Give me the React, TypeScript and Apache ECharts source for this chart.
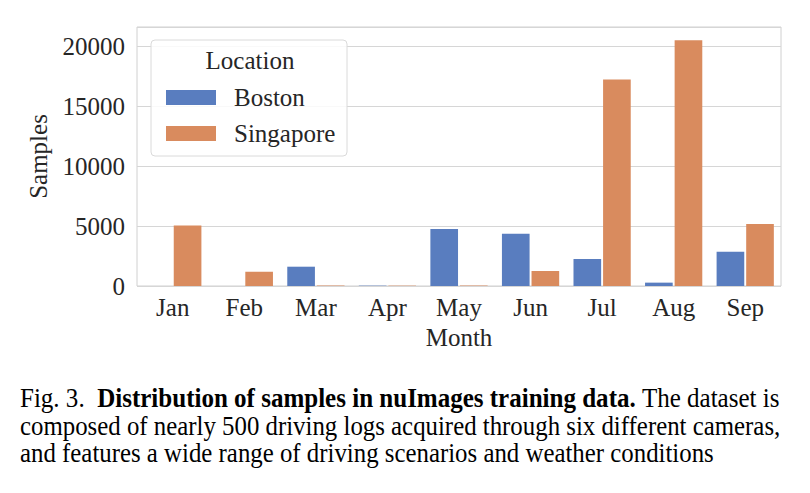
import React, { useEffect, useRef } from 'react';
import * as echarts from 'echarts';

const months = ['Jan', 'Feb', 'Mar', 'Apr', 'May', 'Jun', 'Jul', 'Aug', 'Sep'];
const bostonValues = [0, 0, 1610, 30, 4750, 4360, 2250, 280, 2860];
const singaporeValues = [5040, 1190, 40, 30, 40, 1250, 17220, 20500, 5170];
const seriesNames = ['Boston', 'Singapore'];
const legendTitle = 'Location';
const xName = 'Month';
const yName = 'Samples';
const captionLine1 = { pre: 'Fig. 3.  ', bold: 'Distribution of samples in nuImages training data.', post: ' The dataset is' };
const captionLine2 = 'composed of nearly 500 driving logs acquired through six different cameras,';
const captionLine3 = 'and features a wide range of driving scenarios and weather conditions';

const FONT = '"Liberation Serif", "Times New Roman", Times, serif';
const TXT = '#262626';
const BLUE = '#597dbf';
const ORANGE = '#d98b5e';

function measure(text: string, font: string): number {
  const c = document.createElement('canvas').getContext('2d');
  if (!c) return text.length * 11;
  c.font = font;
  return c.measureText(text).width;
}

export default function App() {
  const ref = useRef<HTMLDivElement>(null);
  useEffect(() => {
    document.body.style.margin = '0';
    if (!ref.current) return;
    const chart = echarts.init(ref.current, undefined, { renderer: 'svg' });
    const cs = 27;
    const reg = `${cs}px ${FONT}`;
    const bld = `bold ${cs}px ${FONT}`;
    const w1 = measure(captionLine1.pre, reg) + measure(captionLine1.bold, bld) + measure(captionLine1.post, reg);
    const w2 = measure(captionLine2, reg);
    const targetW = 760;
    const s1 = targetW / w1;
    const s2 = targetW / w2;
    const s3 = s2;

    chart.setOption({
      animation: false,
      grid: { left: 137, right: 29, top: 27, bottom: 207, show: true, borderColor: '#d0d0d0', borderWidth: 1, containLabel: false },
      xAxis: {
        type: 'category',
        data: months,
        name: xName,
        nameLocation: 'middle',
        nameGap: 37,
        nameTextStyle: { fontFamily: FONT, fontSize: 25, color: TXT },
        axisLine: { show: false },
        axisTick: { show: false },
        axisLabel: { fontFamily: FONT, fontSize: 25, color: TXT, margin: 9 },
        splitLine: { show: false },
      },
      yAxis: {
        type: 'value',
        min: 0,
        max: 21600,
        interval: 5000,
        name: yName,
        nameLocation: 'middle',
        nameGap: 86,
        nameTextStyle: { fontFamily: FONT, fontSize: 25, color: TXT },
        axisLine: { show: false },
        axisTick: { show: false },
        axisLabel: { fontFamily: FONT, fontSize: 25, color: TXT, margin: 12, showMaxLabel: false, formatter: (v: number) => String(v) },
        splitLine: { show: true, lineStyle: { color: '#d6d6d6', width: 1 } },
      },
      legend: {
        orient: 'vertical',
        left: 161,
        top: 80,
        itemWidth: 50,
        itemHeight: 15,
        itemGap: 11,
        icon: 'rect',
        selectedMode: false,
        z: 10,
        data: seriesNames,
        textStyle: { fontFamily: FONT, fontSize: 25, lineHeight: 25, color: TXT, padding: [0, 0, 0, 13] },
      },
      series: [
        { name: seriesNames[0], type: 'bar', data: bostonValues, itemStyle: { color: BLUE }, barCategoryGap: '20%', barGap: '7%' },
        { name: seriesNames[1], type: 'bar', data: singaporeValues, itemStyle: { color: ORANGE }, barCategoryGap: '20%', barGap: '7%' },
      ],
      graphic: [
        {
          type: 'rect', z: 8, shape: { x: 151, y: 40, width: 196, height: 116, r: 4 },
          style: { fill: 'rgba(255,255,255,0.85)', stroke: '#dadada', lineWidth: 1 },
        },
        {
          type: 'text', z: 9, x: 250, y: 60,
          style: { text: legendTitle, font: `25px ${FONT}`, fill: TXT, align: 'center', verticalAlign: 'middle' },
        },
        {
          type: 'text', x: 20, y: 398, scaleX: s1,
          style: {
            text: `{r|${captionLine1.pre}}{b|${captionLine1.bold}}{r|${captionLine1.post}}`,
            verticalAlign: 'middle', align: 'left',
            rich: {
              r: { fontFamily: FONT, fontSize: cs, fill: '#000' },
              b: { fontFamily: FONT, fontSize: cs, fontWeight: 'bold', fill: '#000' },
            },
          },
        },
        {
          type: 'text', x: 20, y: 426, scaleX: s2,
          style: { text: captionLine2, font: reg, fill: '#000', align: 'left', verticalAlign: 'middle' },
        },
        {
          type: 'text', x: 20, y: 453, scaleX: s3,
          style: { text: captionLine3, font: reg, fill: '#000', align: 'left', verticalAlign: 'middle' },
        },
      ],
    });
    return () => chart.dispose();
  }, []);
  return <div ref={ref} style={{ width: 810, height: 493, background: '#fff' }} />;
}
